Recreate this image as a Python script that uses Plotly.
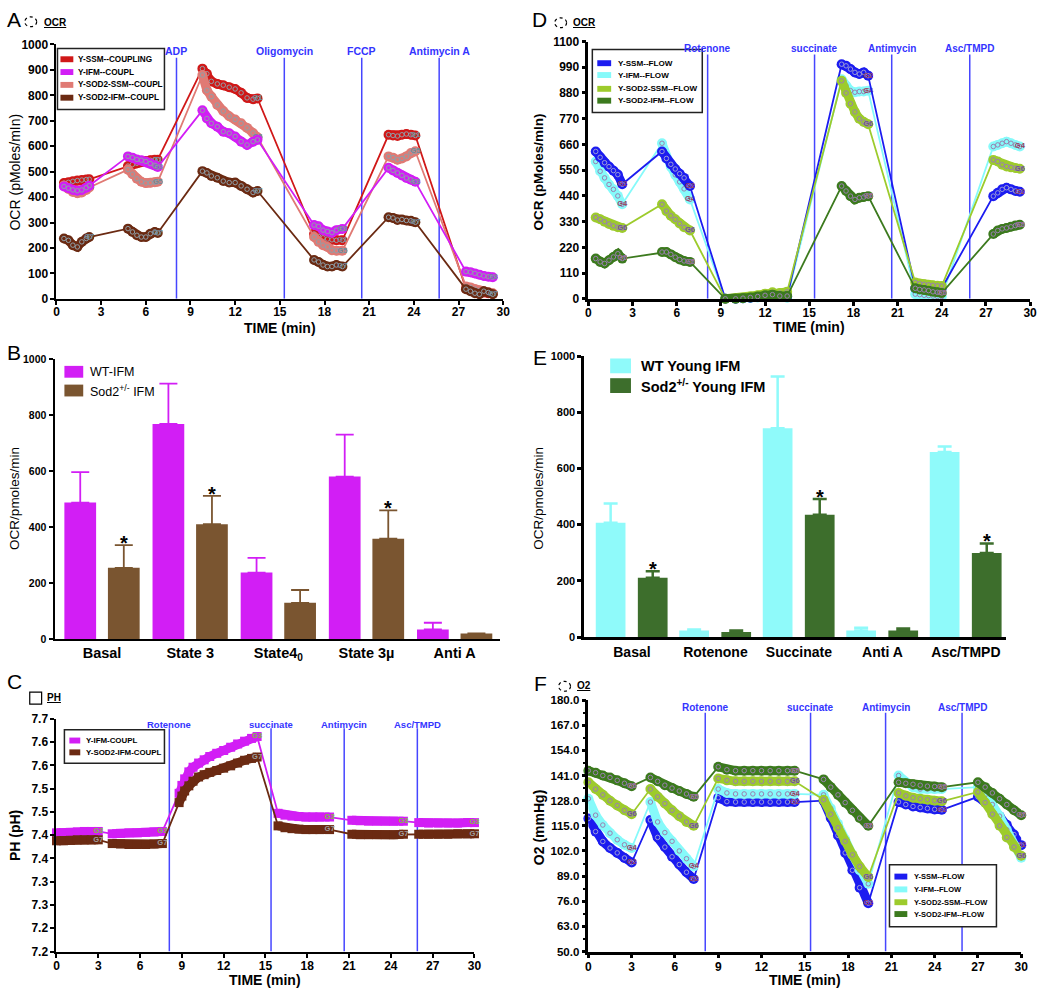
import plotly.graph_objects as go

W, H = 1050, 995
FONT = "Liberation Sans, Arial, Helvetica, sans-serif"

# ---------------- Panel A: OCR coupling ----------------
A_TIME = [0.5, 0.8, 1.1, 1.4, 1.7, 2.0, 2.2,
          4.8, 5.1, 5.4, 5.7, 6.0, 6.3, 6.6, 6.8,
          9.8, 10.1, 10.4, 10.8, 11.2, 11.6, 12.0, 12.4, 12.8, 13.2, 13.5,
          17.3, 17.6, 17.9, 18.2, 18.5, 18.8, 19.2,
          22.3, 22.6, 22.9, 23.2, 23.5, 23.8, 24.1,
          27.5, 27.8, 28.1, 28.4, 28.7, 29.0, 29.3]
A_SSM = [455, 458, 462, 465, 467, 469, 470,
         522, 528, 533, 538, 542, 545, 547, 547,
         905, 885, 855, 845, 840, 832, 825, 810, 790, 785, 788,
         255, 245, 240, 235, 232, 230, 230,
         645, 642, 640, 645, 648, 645, 642,
         40, 35, 30, 28, 25, 22, 20]
A_IFM = [442, 435, 428, 425, 428, 437, 445,
         560, 555, 548, 545, 540, 532, 525, 518,
         741, 709, 690, 677, 657, 651, 638, 618, 605, 618, 625,
         290, 285, 270, 265, 260, 270, 275,
         515, 505, 495, 485, 475, 468, 460,
         107, 105, 100, 95, 90, 87, 85]
A_SOD2_SSM = [445, 432, 420, 415, 418, 428, 438,
              508, 490, 472, 460, 455, 456, 458, 460,
              880, 820, 795, 762, 738, 718, 705, 690, 672, 652, 635,
              243, 224, 211, 204, 191, 189, 189,
              560, 555, 547, 552, 560, 573, 580,
              49, 45, 38, 33, 30, 26, 22]
A_SOD2_IFM = [237, 230, 211, 204, 224, 237, 243,
              276, 263, 250, 243, 243, 256, 263, 259,
              502, 495, 483, 476, 463, 457, 457, 444, 431, 418, 424,
              153, 145, 133, 127, 127, 133, 127,
              321, 318, 310, 312, 308, 307, 301,
              38, 30, 22, 18, 30, 25, 18]
A_NAMES = ["Y-SSM--COUPLING", "Y-IFM--COUPL", "Y-SOD2-SSM--COUPL", "Y-SOD2-IFM--COUPL"]
A_EVENT_T = [8.06, 15.3, 20.5, 25.7]
A_EVENTS = ["ADP", "Oligomycin", "FCCP", "Antimycin A"]
A_XTICKS = [0, 3, 6, 9, 12, 15, 18, 21, 24, 27, 30]
A_YTICKS = [0, 100, 200, 300, 400, 500, 600, 700, 800, 900, 1000]

# ---------------- Panel D: OCR flow ----------------
D_TIME = [0.5, 0.8, 1.1, 1.4, 1.7, 2.0, 2.3,
          5.0, 5.3, 5.6, 5.9, 6.2, 6.5, 6.9,
          9.3, 10.0, 10.5, 11.0, 11.5, 12.0, 12.5, 13.0, 13.5,
          17.2, 17.5, 17.8, 18.1, 18.4, 18.7, 19.0,
          22.2, 22.5, 22.8, 23.1, 23.4, 23.7, 24.0,
          27.5, 27.8, 28.1, 28.4, 28.7, 29.0, 29.3]
D_SSM = [630, 605, 582, 565, 548, 531, 490,
         630, 600, 575, 555, 535, 517, 482,
         0, 0, 3, 5, 8, 12, 15, 12, 10,
         1003, 996, 982, 968, 961, 968, 954,
         45, 50, 48, 46, 45, 44, 45,
         439, 453, 468, 475, 468, 461, 458]
D_IFM = [587, 545, 517, 489, 468, 440, 404,
         665, 601, 565, 530, 500, 470, 425,
         0, 0, 2, 4, 6, 8, 10, 8, 5,
         939, 911, 890, 883, 886, 886, 890,
         20, 18, 15, 14, 12, 10, 10,
         651, 658, 665, 672, 665, 658, 651]
D_SOD2_SSM = [348, 340, 330, 320, 312, 306, 303,
              404, 375, 355, 340, 322, 306, 292,
              0, 2, 5, 10, 15, 22, 28, 25, 30,
              932, 880, 834, 799, 770, 756, 746,
              70, 65, 62, 60, 58, 56, 55,
              594, 587, 573, 566, 562, 559, 556]
D_SOD2_IFM = [172, 158, 151, 165, 179, 193, 172,
              200, 200, 190, 178, 168, 162, 158,
              0, 0, 3, 6, 10, 15, 18, 12, 12,
              482, 461, 439, 425, 432, 435, 439,
              45, 40, 38, 35, 30, 28, 25,
              277, 292, 299, 303, 308, 313, 317]
FLOW_NAMES = ["Y-SSM--FLOW", "Y-IFM--FLOW", "Y-SOD2-SSM--FLOW", "Y-SOD2-IFM--FLOW"]
D_EVENT_T = [8.1, 15.36, 20.6, 25.9]
FLOW_EVENTS = ["Rotenone", "succinate", "Antimycin", "Asc/TMPD"]
D_YTICKS = [0, 110, 220, 330, 440, 550, 660, 770, 880, 990, 1100]

# ---------------- Panel B: bars ----------------
B_CATS = ["Basal", "State 3", "State4<sub>0</sub>", "State 3µ", "Anti A"]
B_WT = [487, 768, 237, 580, 34]
B_WT_ERR = [109, 144, 53, 150, 24]
B_SOD2 = [254, 410, 129, 358, 20]
B_SOD2_ERR = [81, 101, 46, 101, 0]
B_STARS = [0, 1, 3]
B_NAMES = ["WT-IFM", "Sod2<sup>+/-</sup> IFM"]

# ---------------- Panel E: bars ----------------
E_CATS = ["Basal", "Rotenone", "Succinate", "Anti A", "Asc/TMPD"]
E_WT = [407, 23, 743, 23, 658]
E_WT_ERR = [68, 4, 184, 10, 20]
E_SOD2 = [211, 18, 435, 23, 299]
E_SOD2_ERR = [23, 5, 56, 7, 34]
E_STARS = [0, 2, 4]
E_NAMES = ["WT Young IFM", "Sod2<sup>+/-</sup> Young IFM"]
BAR_YTICKS = [0, 200, 400, 600, 800, 1000]

# ---------------- Panel C: pH ----------------
C_TIME = [0.0, 0.5, 1.0, 1.5, 2.0, 2.5, 3.0,
          4.0, 4.6, 5.2, 5.8, 6.4, 7.0, 7.6,
          8.8, 9.0, 9.2, 9.5, 9.8, 10.2, 10.6, 11.0, 11.5, 12.0, 12.5, 13.0, 13.5, 14.0, 14.4,
          15.9, 16.4, 16.9, 17.4, 17.9, 18.4, 18.9, 19.6,
          21.2, 21.8, 22.4, 23.0, 23.6, 24.2, 24.9,
          26.0, 26.7, 27.4, 28.1, 28.8, 29.5, 30.0]
C_IFM = [7.455, 7.455, 7.456, 7.457, 7.458, 7.458, 7.458,
         7.453, 7.454, 7.455, 7.455, 7.456, 7.457, 7.458,
         7.540, 7.557, 7.571, 7.586, 7.596, 7.605, 7.612, 7.619, 7.626, 7.632, 7.639, 7.646, 7.652, 7.658, 7.662,
         7.497, 7.493, 7.491, 7.490, 7.489, 7.489, 7.489, 7.489,
         7.482, 7.481, 7.480, 7.480, 7.480, 7.480, 7.480,
         7.477, 7.476, 7.476, 7.476, 7.476, 7.477, 7.477]
C_SOD2_IFM = [7.438, 7.438, 7.439, 7.440, 7.440, 7.440, 7.440,
              7.432, 7.431, 7.430, 7.430, 7.430, 7.431, 7.432,
              7.520, 7.534, 7.545, 7.556, 7.566, 7.575, 7.580, 7.585, 7.589, 7.594, 7.599, 7.605, 7.611, 7.615, 7.618,
              7.470, 7.466, 7.464, 7.463, 7.462, 7.462, 7.462, 7.462,
              7.452, 7.451, 7.451, 7.451, 7.451, 7.451, 7.452,
              7.452, 7.452, 7.452, 7.452, 7.453, 7.453, 7.453]
C_NAMES = ["Y-IFM-COUPL", "Y-SOD2-IFM-COUPL"]
C_EVENT_T = [8.1, 15.4, 20.65, 25.9]
C_YTICKS = [7.2, 7.25, 7.3, 7.35, 7.4, 7.45, 7.5, 7.55, 7.6, 7.65, 7.7]
C_YTICKTEXT = ["7.2", "7.2", "7.3", "7.3", "7.4", "7.4", "7.5", "7.5", "7.6", "7.6", "7.7"]

# ---------------- Panel F: O2 ----------------
F_TIME = [0.0, 0.5, 1.0, 1.5, 2.0, 2.5, 3.0,
          4.3, 4.8, 5.3, 5.8, 6.3, 6.8, 7.3,
          9.0, 9.6, 10.2, 10.8, 11.4, 12.0, 12.6, 13.2, 13.8, 14.3,
          16.3, 16.8, 17.3, 17.8, 18.3, 18.8, 19.4,
          21.5, 22.0, 22.5, 23.0, 23.5, 24.0, 24.5,
          27.0, 27.5, 28.0, 28.5, 29.0, 29.5, 30.0]
F_SSM = [118.8, 112, 106.9, 103.5, 101, 98.4, 96,
         118, 109, 104, 99, 95, 91, 87.5,
         129.5, 127.5, 127.3, 127.3, 127.3, 127.3, 127.3, 127.3, 127.3, 127.3,
         128, 119, 110, 101, 92, 83, 75,
         127.3, 126, 125, 124.5, 124, 123.5, 123.3,
         130, 127.5, 124, 120, 115.5, 110.5, 105]
F_IFM = [129, 120.5, 115.4, 111.2, 107.8, 105.2, 103.5,
         127.3, 117, 111.5, 107, 102, 98, 94,
         134, 132, 131.5, 131.5, 131.5, 131.5, 131.5, 131.5, 131.5, 131.5,
         131, 124, 116, 108, 100, 92, 85,
         141, 137.5, 135, 134, 134, 134, 134,
         135, 131, 126, 120, 113, 105, 98.5]
F_SOD2_SSM = [137.5, 134, 131, 128, 125.5, 123, 121,
              134, 130, 126.5, 123, 120, 117, 115,
              139.5, 138.5, 138, 138, 138, 138, 138, 138, 138, 138,
              128.5, 121, 114, 107, 100, 94, 88.5,
              132, 130.5, 129.5, 129, 128.5, 128, 127.7,
              132.5, 127, 121, 115, 109, 104, 99.5]
F_SOD2_IFM = [143.5, 142.5, 141, 140, 138.5, 137, 135.5,
              140, 138, 136, 134.5, 133, 131.5, 130,
              145.5, 144, 143.5, 143.5, 143.5, 143.5, 143.5, 143.5, 143.5, 143.5,
              139, 135, 131, 127, 123, 119, 115,
              137.5, 137, 136.5, 136, 135.5, 135.3, 135,
              137.5, 135, 132, 129, 126, 123, 120.5]
F_EVENT_T = [8.1, 15.4, 20.6, 25.9]
F_YTICKS = [50, 63, 76, 89, 102, 115, 128, 141, 154, 167, 180]

# ---------------- colours ----------------
RED, MAG, SALMON, BROWN = "#d01818", "#d21ef5", "#e07a74", "#6b2a12"
BLUE, CYAN, LIME, DGREEN = "#1c1cf0", "#86fafa", "#9dcb2c", "#3c7a1e"
BAR_BROWN, E_CYAN, E_GREEN = "#7a5530", "#8ffafa", "#3d6e2c"
EVCOL = "#4646ff"


def px(x):
    return x / W


def py(y):
    return 1 - y / H


fig = go.Figure()


def seg_end_flags(t, thr):
    n = len(t)
    return [(i == n - 1) or (t[i + 1] - t[i] > thr) for i in range(n)]


def add_series(t, v, color, label, xa, ya, thr, band_w, msize, symbol,
               ring_color, lab_color, skip=(), txt_size=7.5):
    common = dict(xaxis=xa, yaxis=ya, showlegend=False, hoverinfo="skip", cliponaxis=False)
    # connecting thin line
    fig.add_trace(go.Scatter(x=t, y=v, mode="lines", line=dict(color=color, width=1.8), **common))
    # thick band for each measurement period
    bx, by = [], []
    for i in range(len(t)):
        if i > 0 and t[i] - t[i - 1] > thr:
            bx.append(None)
            by.append(None)
        bx.append(t[i])
        by.append(v[i])
    fig.add_trace(go.Scatter(x=bx, y=by, mode="lines", line=dict(color=color, width=band_w),
                             connectgaps=False, **common))
    fig.add_trace(go.Scatter(x=t, y=v, mode="markers",
                             marker=dict(color=color, size=msize, symbol=symbol, line=dict(width=0)),
                             **common))
    if ring_color:
        # small grey glyph-like rings inside each instrument marker
        fig.add_trace(go.Scatter(x=t, y=v, mode="markers",
                                 marker=dict(color=ring_color, size=4.5, symbol="circle-open",
                                             line=dict(width=1, color=ring_color)),
                                 **common))
    ends = seg_end_flags(t, thr)
    lx, ly = [], []
    seg = 0
    for i in range(len(t)):
        if ends[i]:
            if seg not in skip:
                lx.append(t[i])
                ly.append(v[i])
            seg += 1
    fig.add_trace(go.Scatter(x=lx, y=ly, mode="text", text=[label] * len(lx),
                             textposition="middle center",
                             textfont=dict(family=FONT, size=txt_size, color=lab_color, weight="bold"),
                             **common))


# Panel A series
GT = "#6f8c9c"
RING_A = "#8fa0aa"
add_series(A_TIME, A_SSM, RED, "G1", "x", "y", 1.0, 9, 10, "circle", RING_A, GT, skip=(0, 5))
add_series(A_TIME, A_SOD2_SSM, SALMON, "G5", "x", "y", 1.0, 9, 10, "circle", RING_A, GT, skip=(5,))
add_series(A_TIME, A_IFM, MAG, "G3", "x", "y", 1.0, 9, 10, "circle", RING_A, GT, skip=(0, 2))
add_series(A_TIME, A_SOD2_IFM, BROWN, "G7", "x", "y", 1.0, 9, 10, "circle", RING_A, GT)

# Panel D series
PT = "#9a80b0"
PL = "#9a4060"
add_series(D_TIME, D_IFM, CYAN, "G4", "x2", "y2", 1.0, 9, 10, "circle", PT, PL, skip=(2, 4))
add_series(D_TIME, D_SSM, BLUE, "G2", "x2", "y2", 1.0, 9, 10, "circle", "#9a9ad8", PL, skip=(2, 4))
add_series(D_TIME, D_SOD2_SSM, LIME, "G6", "x2", "y2", 1.0, 9, 10, "circle", PT, "#7050a0", skip=(2, 4))
add_series(D_TIME, D_SOD2_IFM, DGREEN, "G5", "x2", "y2", 1.0, 9, 10, "circle", PT, "#a070a0", skip=(2,))

# Panel C series
add_series(C_TIME, C_IFM, MAG, "G3", "x5", "y5", 0.8, 9, 9, "square", None, "#80c040")
add_series(C_TIME, C_SOD2_IFM, BROWN, "G7", "x5", "y5", 0.8, 9, 9, "square", None, "#a0a0a0")

# Panel F series
add_series(F_TIME, F_SSM, BLUE, "G2", "x6", "y6", 1.0, 9, 10, "circle", "#9a9ad8", PL)
add_series(F_TIME, F_IFM, CYAN, "G4", "x6", "y6", 1.0, 9, 10, "circle", PT, PL, skip=(3, 5))
add_series(F_TIME, F_SOD2_SSM, LIME, "G6", "x6", "y6", 1.0, 9, 10, "circle", PT, "#7050a0")
add_series(F_TIME, F_SOD2_IFM, DGREEN, "G5", "x6", "y6", 1.0, 9, 10, "circle", PT, "#a070a0")

# Panel B bars
B_POS = list(range(len(B_CATS)))
fig.add_trace(go.Bar(x=B_POS, y=B_WT, width=0.36, offset=-0.427, marker=dict(color=MAG, line=dict(width=0)),
                     error_y=dict(type="data", array=B_WT_ERR, arrayminus=[0] * 5, symmetric=False,
                                  color=MAG, thickness=1.8, width=9),
                     xaxis="x3", yaxis="y3", showlegend=False, hoverinfo="skip"))
fig.add_trace(go.Bar(x=B_POS, y=B_SOD2, width=0.36, offset=0.067, marker=dict(color=BAR_BROWN, line=dict(width=0)),
                     error_y=dict(type="data", array=B_SOD2_ERR, arrayminus=[0] * 5, symmetric=False,
                                  color=BAR_BROWN, thickness=1.8, width=9),
                     xaxis="x3", yaxis="y3", showlegend=False, hoverinfo="skip"))

# Panel E bars
E_POS = list(range(len(E_CATS)))
fig.add_trace(go.Bar(x=E_POS, y=E_WT, width=0.356, offset=-0.433, marker=dict(color=E_CYAN, line=dict(width=0)),
                     error_y=dict(type="data", array=E_WT_ERR, arrayminus=[0] * 5, symmetric=False,
                                  color=E_CYAN, thickness=2.5, width=7),
                     xaxis="x4", yaxis="y4", showlegend=False, hoverinfo="skip"))
fig.add_trace(go.Bar(x=E_POS, y=E_SOD2, width=0.356, offset=0.071, marker=dict(color=E_GREEN, line=dict(width=0)),
                     error_y=dict(type="data", array=E_SOD2_ERR, arrayminus=[0] * 5, symmetric=False,
                                  color=E_GREEN, thickness=2.5, width=7),
                     xaxis="x4", yaxis="y4", showlegend=False, hoverinfo="skip"))

annotations = []
shapes = []


def ann(x, y, text, size, bold=False, color="black", xanchor="center", yanchor="middle",
        xref="paper", yref="paper", angle=0, yshift=0):
    annotations.append(dict(x=x, y=y, xref=xref, yref=yref, text=text, showarrow=False,
                            xanchor=xanchor, yanchor=yanchor, textangle=angle, yshift=yshift,
                            font=dict(family=FONT, size=size, color=color,
                                      weight="bold" if bold else "normal")))


# stars
for i in B_STARS:
    ann(i + 0.247, B_SOD2[i] + B_SOD2_ERR[i], "*", 20, True, xref="x3", yref="y3", yshift=2)
for i in E_STARS:
    ann(i + 0.249, E_SOD2[i] + E_SOD2_ERR[i], "*", 20, True, xref="x4", yref="y4", yshift=2)


# event lines + labels
def events(ts, labels, xr, yr, y0, y1, ylab, size):
    for t, lab in zip(ts, labels):
        shapes.append(dict(type="line", xref=xr, yref=yr, x0=t, x1=t, y0=y0, y1=y1,
                           line=dict(color=EVCOL, width=1.5), layer="below"))
        ann(t, ylab, lab, size, True, color="#3434ff", xref=xr, yref=yr)


events(A_EVENT_T, A_EVENTS, "x", "y", 0, 948, 974, 10.5)
events(D_EVENT_T, FLOW_EVENTS, "x2", "y2", 0, 1045, 1070, 10)
events(C_EVENT_T, FLOW_EVENTS, "x5", "y5", 7.2, 7.68, 7.688, 9.5)
events(F_EVENT_T, FLOW_EVENTS, "x6", "y6", 50, 173.5, 176.3, 10)


# legends (drawn with shapes + text)
def legend(box, items, sx0, sx1, sh, tx, size, bold):
    if box is not None:
        x0, y0, x1, y1 = box
        shapes.append(dict(type="rect", xref="paper", yref="paper", x0=px(x0), x1=px(x1),
                           y0=py(y1), y1=py(y0), line=dict(color="#222222", width=1.5),
                           fillcolor="white", layer="above"))
    for yc, col, name in items:
        shapes.append(dict(type="rect", xref="paper", yref="paper", x0=px(sx0), x1=px(sx1),
                           y0=py(yc + sh / 2), y1=py(yc - sh / 2), line=dict(width=0),
                           fillcolor=col, layer="above"))
        ann(px(tx), py(yc), name, size, bold, xanchor="left")


legend((55, 42, 163, 104), list(zip([53, 66, 79, 92], [RED, MAG, SALMON, BROWN], A_NAMES)),
       58, 71, 6, 74, 8.2, True)
legend((595, 43, 706, 107), list(zip([57, 69, 83, 95], [BLUE, CYAN, LIME, DGREEN], FLOW_NAMES)),
       600, 614, 6, 619, 8.1, True)
legend((62, 733, 163, 767), list(zip([744, 756], [MAG, BROWN], C_NAMES)),
       67, 78, 6, 82, 7.9, True)
legend((895, 870, 1003, 933), list(zip([882, 895, 908, 920], [BLUE, CYAN, LIME, DGREEN], FLOW_NAMES)),
       900, 913, 6, 918, 7.5, True)
legend(None, list(zip([370, 389], [MAG, BAR_BROWN], B_NAMES)), 62, 81, 12, 86, 12.5, False)
legend(None, list(zip([364, 384], [E_CYAN, E_GREEN], E_NAMES)), 613, 634, 15, 642, 14.5, True)

# panel letters
for lab, x, y in [("A", 2, 13), ("D", 532, 13), ("B", 2, 350), ("E", 533, 355), ("C", 2, 684), ("F", 534, 686)]:
    ann(px(x), py(y), lab, 21, False, xanchor="left")

# measurement icons
for cx, cy in [(28, 15), (563, 16), (567, 689)]:
    shapes.append(dict(type="circle", xref="paper", yref="paper", x0=px(cx - 6), x1=px(cx + 6),
                       y0=py(cy + 5), y1=py(cy - 5), line=dict(color="black", width=1.2, dash="dot")))
shapes.append(dict(type="rect", xref="paper", yref="paper", x0=px(27), x1=px(39),
                   y0=py(707), y1=py(695), line=dict(color="black", width=1.2)))
ann(px(39), py(16), "<u>OCR</u>", 10, True, xanchor="left")
ann(px(573), py(16), "<u>OCR</u>", 10, True, xanchor="left")
ann(px(42), py(700), "<u>PH</u>", 10, True, xanchor="left")
ann(px(578), py(688), "<u>O2</u>", 10, True, xanchor="left")

# axis titles
ann(px(12), py(167), "OCR (pMoles/mIn)", 14, False, angle=-90)
ann(px(541), py(167), "OCR (pMoles/mIn)", 13.5, True, angle=-90)
ann(px(12), py(498), "OCR/pmoles/min", 13.5, False, angle=-90)
ann(px(541), py(498), "OCR/pmoles/min", 13.5, False, angle=-90)
ann(px(12), py(840), "PH (pH)", 14, True, angle=-90)
ann(px(541), py(832), "O2 (mmHg)", 14, True, angle=-90)
ann(px(280), py(326), "TIME (min)", 14, True)
ann(px(814), py(325), "TIME (min)", 14, True)
ann(px(265), py(987), "TIME (min)", 14, True)
ann(px(810), py(987), "TIME (min)", 14, True)


def axis(domain, rng, anchor, lw=2, size=12, **kw):
    d = dict(domain=domain, range=rng, anchor=anchor, showline=True, linecolor="black",
             linewidth=lw, ticks="outside", ticklen=4, tickwidth=lw, tickcolor="black",
             showgrid=False, zeroline=False, fixedrange=True,
             tickfont=dict(family=FONT, size=size, color="black", weight="bold"))
    d.update(kw)
    return d


layout_axes = dict(
    xaxis=axis([px(54), px(505)], [0, 30], "y", tickvals=A_XTICKS, ticklabelstandoff=-3),
    yaxis=axis([py(296), py(38)], [0, 1000], "x", tickvals=A_YTICKS),
    xaxis2=axis([px(591), px(1037)], [0, 30], "y2", lw=2.5, tickvals=A_XTICKS, ticklabelstandoff=-3),
    yaxis2=axis([py(296), py(35)], [0, 1100], "x2", lw=2.5, tickvals=D_YTICKS),
    xaxis3=axis([px(52), px(502)], [-0.539, 4.517], "y3", size=14.5, tickvals=B_POS,
                ticktext=B_CATS, ticks=""),
    yaxis3=axis([py(641), py(357)], [0, 1000], "x3", size=10.5, tickvals=BAR_YTICKS),
    xaxis4=axis([px(587), px(1013)], [-0.569, 4.484], "y4", lw=3, size=14, tickvals=E_POS,
                ticktext=E_CATS, ticks=""),
    yaxis4=axis([py(639), py(354)], [0, 1000], "x4", lw=3, size=11, tickvals=BAR_YTICKS),
    xaxis5=axis([px(54), px(476)], [0, 30], "y5", tickvals=A_XTICKS, ticklabelstandoff=-2),
    yaxis5=axis([py(958), py(722)], [7.2, 7.7], "x5", tickvals=C_YTICKS, ticktext=C_YTICKTEXT),
    xaxis6=axis([px(591), px(1028)], [0, 30], "y6", lw=2.5, tickvals=A_XTICKS, ticklabelstandoff=-2),
    yaxis6=axis([py(958), py(703)], [50, 180], "x6", lw=2.5, size=11.5, tickvals=F_YTICKS,
                ticktext=[f"{v:.1f}" for v in F_YTICKS],
                minor=dict(ticks="outside", ticklen=2.5, tickwidth=1.5, tickcolor="black",
                           tickmode="linear", tick0=56.5, dtick=13)),
)

fig.update_layout(width=W, height=H, margin=dict(l=0, r=0, t=0, b=0),
                  paper_bgcolor="white", plot_bgcolor="white", barmode="overlay",
                  showlegend=False, annotations=annotations, shapes=shapes,
                  font=dict(family=FONT, color="black"), **layout_axes)

fig.write_html("out.html", config={"displayModeBar": False},
               post_script="document.body.style.margin='0px';document.body.style.overflow='hidden';")
